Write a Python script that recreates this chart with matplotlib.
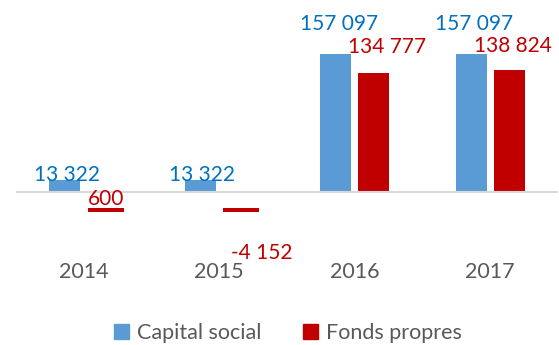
import matplotlib

matplotlib.use("Agg")
import matplotlib.pyplot as plt
import numpy as np
from matplotlib.patches import Patch

plt.rcParams["font.family"] = ["Lato", "DejaVu Sans"]

years = ["2014", "2015", "2016", "2017"]
capital_social = [13322, 13322, 157097, 157097]
fonds_propres = [600, -4152, 134777, 138824]

BLUE = "#5B9BD5"
BLUE_TEXT = "#0070C0"
RED = "#C00000"
GREY_TEXT = "#595959"

# label offsets (pixels) from the top of each bar
blue_offsets = [(2.5, -1), (1.5, -1), (3, 24), (3, 24)]
red_offsets = [(3.5, -13.5), (24, -63), (13.5, 20), (4, 18)]


def fmt(v: float) -> str:
    return f"{v:,.0f}".replace(",", " ")


W, H = 559, 345
fig = plt.figure(figsize=(W / 100, H / 100), dpi=100)

# axes placed in pixels: categories span x 16..558, zero line at y=192
left_px, right_px = 16, 558
top_px, bottom_px, zero_px = 10, 250, 192
units_per_px = 157097 / 138.5
ax = fig.add_axes([left_px / W, 1 - bottom_px / H, (right_px - left_px) / W, (bottom_px - top_px) / H])
ax.set_xlim(-0.5, len(years) - 0.5)
ax.set_ylim(-(bottom_px - zero_px) * units_per_px, (zero_px - top_px) * units_per_px)

x = np.arange(len(years))
fp = np.array(fonds_propres)
width = 0.229
shift = 0.14

ax.bar(x - shift, capital_social, width, color=BLUE, zorder=2)

# values too small to read as a bar are shown as a short stroke under the axis
small = np.abs(fp) < 0.05 * fp.max()
ax.bar(x[~small] + shift, fp[~small], width, color=RED, zorder=2)
ax.bar(x[small] + shift + 0.022, -3.5 * units_per_px, 0.266,
       bottom=-16 * units_per_px, color=RED, zorder=2)

ax.axhline(0, color="#D9D9D9", linewidth=1.5, zorder=3)

for i, v in enumerate(capital_social):
    dx, dy = blue_offsets[i]
    ax.annotate(fmt(v), (x[i] - shift, max(v, 0)), xytext=(dx, dy), textcoords="offset pixels",
                ha="center", va="baseline", color=BLUE_TEXT, fontsize=15, zorder=4)
for i, v in enumerate(fonds_propres):
    dx, dy = red_offsets[i]
    ax.annotate(fmt(v), (x[i] + shift, v), xytext=(dx, dy), textcoords="offset pixels",
                ha="center", va="baseline", color=RED, fontsize=15, zorder=4)

ax.set_xticks(x)
ax.set_xticklabels(years, color=GREY_TEXT, fontsize=15.5)
ax.tick_params(axis="x", length=0, pad=9)
ax.set_yticks([])
for side in ax.spines.values():
    side.set_visible(False)

handles = [Patch(color=BLUE, label="Capital social"), Patch(color=RED, label="Fonds propres")]
leg = fig.legend(handles=handles, loc="lower center", bbox_to_anchor=(0.515, -0.05), ncol=2,
                 frameon=False, fontsize=15.5, handlelength=0.7, handleheight=0.7,
                 handletextpad=0.4, columnspacing=1.9)
for t in leg.get_texts():
    t.set_color(GREY_TEXT)

fig.savefig("out.png", dpi=100)
